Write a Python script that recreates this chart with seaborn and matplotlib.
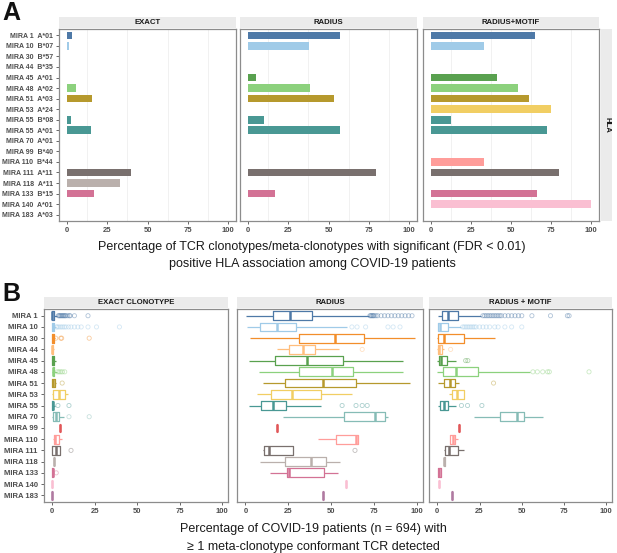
import numpy as np
import pandas as pd
import matplotlib
matplotlib.use("Agg")
import matplotlib.pyplot as plt
import seaborn as sns

sns.set_theme(style="white")
plt.rcParams['font.family'] = ['Liberation Sans', 'DejaVu Sans']

# ---------------- data ----------------
mira_ids = ["MIRA 1", "MIRA 10", "MIRA 30", "MIRA 44", "MIRA 45", "MIRA 48", "MIRA 51",
            "MIRA 53", "MIRA 55", "MIRA 70", "MIRA 99", "MIRA 110", "MIRA 111", "MIRA 118",
            "MIRA 133", "MIRA 140", "MIRA 183"]
mira_colors = ["#4E79A7", "#A0CBE8", "#F28E2B", "#FFBE7D", "#59A14F", "#8CD17D", "#B6992D",
               "#F1CE63", "#499894", "#86BCB6", "#E15759", "#FF9D9A", "#79706E", "#BAB0AC",
               "#D37295", "#FABFD2", "#B07AA1"]

# Panel A
hla_mira = ["MIRA 1", "MIRA 10", "MIRA 30", "MIRA 44", "MIRA 45", "MIRA 48", "MIRA 51",
            "MIRA 53", "MIRA 55", "MIRA 55", "MIRA 70", "MIRA 99", "MIRA 110", "MIRA 111",
            "MIRA 118", "MIRA 133", "MIRA 140", "MIRA 183"]
hla_allele = ["A*01", "B*07", "B*57", "B*35", "A*01", "A*02", "A*03", "A*24", "B*08", "A*01",
              "A*01", "B*40", "B*44", "A*11", "A*11", "B*15", "A*01", "A*03"]
nan = np.nan
exact_pct = [3.3, 1.5, nan, nan, nan, 5.8, 15.3, nan, 2.5, 14.7, nan, nan, nan, 39.8, 33.1, 16.8, nan, nan]
radius_pct = [57.2, 37.8, nan, nan, 5.2, 38.4, 53.7, nan, 9.9, 57.2, nan, nan, nan, 79.5, nan, 16.5, nan, nan]
motif_pct = [65.3, 33.3, nan, nan, 41.0, 54.5, 61.3, 74.8, 12.3, 72.3, nan, nan, 33.3, 79.8, nan, 66.5, 100.0, nan]

# Panel B: (min whisker, q1, median, q3, max whisker) per MIRA
box_exact = [(0, 0, 0, 1, 3), (0, 0, 0.3, 1, 2), (0, 0, 0.5, 1.2, 1.8), (0, 0, 0, 0.5, 0.8),
             (0, 0, 0.3, 1, 2), (0, 0.3, 0.5, 1.2, 2.5), (0, 0, 0.5, 1.5, 2), (0, 0.4, 3.7, 7.3, 9.4),
             (0, 0, 0.2, 0.5, 1.5), (0, 0.4, 1.9, 3.8, 6.9), (4.6, 4.6, 4.6, 4.6, 4.6),
             (0.4, 1, 1.5, 3.8, 5.8), (0, 0, 1.9, 4.4, 4.4), (0.8, 0.8, 0.8, 0.8, 0.8),
             (0, 0, 0.3, 0.6, 0.6), (0, 0, 0, 0, 0), (0, 0, 0, 0, 0)]
box_radius = [(0.4, 16.2, 25.8, 38.5, 72), (1.2, 8.5, 18.5, 29.7, 59), (2.5, 31.4, 52.4, 69.2, 98.5),
              (18.1, 25.2, 33.5, 40.7, 54.7), (2.3, 17, 36, 57, 91.9), (7.9, 31.4, 50.7, 62.6, 91.9),
              (10, 22.9, 45.3, 64.4, 95.8), (6.7, 15, 27.2, 43.9, 62), (2.1, 9.1, 16, 23.9, 44.1),
              (22, 57.2, 75.5, 81.5, 83), (18.5, 18.5, 18.5, 18.5, 18.5), (42, 53, 64.4, 65.5, 65.5),
              (10.4, 11, 13.9, 27.7, 27.7), (8.5, 23.1, 38.3, 47, 55.3), (14.3, 24.3, 25.2, 45.5, 54.1),
              (58.6, 58.6, 58.6, 58.6, 58.6), (45.1, 45.1, 45.1, 45.1, 45.1)]
box_motif = [(0.6, 2.7, 6.2, 12.1, 26), (0.2, 0.6, 1.7, 6.2, 14.3), (0, 0.4, 3.7, 15.8, 34.1),
             (0, 0.2, 0.8, 2.5, 4), (0, 0.8, 2.3, 5.6, 11), (0, 3.1, 11.2, 24.3, 54.7),
             (0.2, 4, 7.5, 10.4, 12.9), (6.9, 9, 11.8, 15.8, 15.8), (0.6, 1.7, 4.2, 6.6, 11),
             (22, 37, 47.4, 51.6, 62.6), (12.7, 12.7, 12.7, 12.7, 12.7), (7.5, 7.7, 9.4, 10.6, 12.5),
             (3.7, 4.4, 6.7, 12.1, 15.8), (3.8, 4, 4.2, 4.5, 4.7), (0.4, 0.5, 1, 2.3, 2.3),
             (0.8, 0.8, 0.8, 0.8, 0.8), (8.5, 8.5, 8.5, 8.5, 8.5)]

fliers_exact = {"MIRA 1": [3.5, 4, 4.5, 5, 5.5, 6, 6.5, 7, 7.5, 8, 9, 10, 10.5, 13, 21],
                "MIRA 10": [2.5, 3, 4, 5, 6, 7, 8, 9.5, 11, 13, 15, 17, 21, 26, 39.5],
                "MIRA 30": [2, 5, 5.5, 21.7], "MIRA 48": [3, 4, 5, 6, 7.3], "MIRA 51": [5.8],
                "MIRA 55": [3.3, 9.8], "MIRA 70": [9.8, 21.7], "MIRA 111": [11], "MIRA 133": [2.3]}
fliers_radius = {"MIRA 1": [72.5, 73, 73.5, 74, 74.5, 75, 76, 77, 79, 81, 83, 85, 87, 89, 91, 93, 95, 97],
                 "MIRA 10": [62, 65, 70, 83, 86, 90], "MIRA 44": [68],
                 "MIRA 55": [56.3, 64.4, 68, 70.9], "MIRA 111": [63.8]}
fliers_motif = {"MIRA 1": [27, 28, 29, 30, 31, 32, 33, 34, 35, 36, 37, 38, 40, 42, 44, 46, 48, 50, 56, 67, 77, 78],
                "MIRA 10": [15, 16, 17, 18, 19, 20, 21, 22, 23, 25, 27, 29, 31, 34, 36, 40, 44, 50],
                "MIRA 44": [7.9], "MIRA 45": [16.8, 18.1],
                "MIRA 48": [56.6, 59.2, 62.4, 65.3, 66.3, 89.8], "MIRA 51": [33.3],
                "MIRA 55": [14.3, 17.9, 26.4]}

ticks = [0, 25, 50, 75, 100]
pal = dict(zip(mira_ids, mira_colors))

# ---------------- figure ----------------
W, H = 617, 553
fig = plt.figure(figsize=(W / 100, H / 100), dpi=100)

TICK_FS = 5.5


def px_axes(x0, y0, x1, y1):
    return fig.add_axes([x0 / W, 1 - y1 / H, (x1 - x0) / W, (y1 - y0) / H])


def strip(x0, y0, x1, y1, text, rotation=0):
    s = px_axes(x0, y0, x1, y1)
    s.set_facecolor("#EBEBEB")
    s.set_xticks([]); s.set_yticks([])
    for sp in s.spines.values():
        sp.set_visible(False)
    s.text(0.5, 0.5, text, ha="center", va="center", fontsize=5.6, fontweight="bold",
           color="#1a1a1a", rotation=rotation, transform=s.transAxes)


def style(ax, xlim, ylim, show_y, yfs=TICK_FS):
    ax.set_xlim(*xlim)
    ax.set_ylim(*ylim)
    ax.set_xticks(ticks)
    ax.set_xticklabels([str(t) for t in ticks], fontsize=TICK_FS, fontweight="bold", color="#4D4D4D")
    ax.set_xlabel(""); ax.set_ylabel("")
    ax.tick_params(axis="both", length=2.5, width=0.6, color="#4D4D4D", pad=2,
                   bottom=True, left=show_y)
    if show_y:
        for lab in ax.get_yticklabels():
            lab.set_fontsize(yfs); lab.set_fontweight("bold"); lab.set_color("#4D4D4D")
    else:
        ax.set_yticklabels([])
    for sp in ax.spines.values():
        sp.set_visible(True); sp.set_color("#8C8C8C"); sp.set_linewidth(0.9)
    ax.set_facecolor("white")


# Panel A
hla_labels = [f"{m}  {a}" for m, a in zip(hla_mira, hla_allele)]
dfA = pd.DataFrame({"label": hla_labels, "mira": hla_mira,
                    "EXACT": exact_pct, "RADIUS": radius_pct, "RADIUS+MOTIF": motif_pct})
a_pos = [(59, 236), (240, 417), (423, 599)]
a_top, a_bot = 29, 221
for i, (col, (x0, x1)) in enumerate(zip(["EXACT", "RADIUS", "RADIUS+MOTIF"], a_pos)):
    ax = px_axes(x0, a_top, x1, a_bot)
    for g in [12.5, 37.5, 62.5, 87.5]:
        ax.axvline(g, color="#EFEFEF", lw=0.6, zorder=0)
    d = dfA.dropna(subset=[col])
    sns.barplot(data=d, x=col, y="label", hue="mira", order=hla_labels, palette=pal,
                width=0.72, dodge=False, legend=False, errorbar=None, orient="h",
                saturation=1, linewidth=0, ax=ax)
    style(ax, (-5, 105), (len(hla_labels) - 0.4, -0.6), i == 0, yfs=5.05)
    strip(x0, 17, x1, a_top - 1, col)
strip(601, a_top, 612, a_bot, "HLA", rotation=-90)

fig.text(312 / W, 1 - 247 / H, "Percentage of TCR clonotypes/meta-clonotypes with significant (FDR < 0.01)",
         ha="center", va="center", fontsize=9, color="#1a1a1a")
fig.text(312 / W, 1 - 264 / H, "positive HLA association among COVID-19 patients",
         ha="center", va="center", fontsize=9, color="#1a1a1a")

# Panel B
b_pos = [(44, 228), (237, 423), (429, 612)]
b_top, b_bot = 309, 502
b_sets = [("EXACT CLONOTYPE", box_exact, fliers_exact),
          ("RADIUS", box_radius, fliers_radius),
          ("RADIUS + MOTIF", box_motif, fliers_motif)]
for i, ((title, stats, fliers), (x0, x1)) in enumerate(zip(b_sets, b_pos)):
    ax = px_axes(x0, b_top, x1, b_bot)
    rows = []
    for m, s in zip(mira_ids, stats):
        for v in s:
            rows.append((m, v))
    dfB = pd.DataFrame(rows, columns=["mira", "value"])
    sns.boxplot(data=dfB, x="value", y="mira", hue="mira", order=mira_ids, hue_order=mira_ids,
                palette=pal, fill=False, whis=(0, 100), showfliers=False, showcaps=False,
                width=0.78, linewidth=0.9, medianprops=dict(linewidth=1.8),
                legend=False, orient="h", ax=ax)
    frows = []
    for m, vals in fliers.items():
        for v in vals:
            frows.append((m, mira_ids.index(m), v))
    dfF = pd.DataFrame(frows, columns=["mira", "ypos", "value"])
    sns.scatterplot(data=dfF, x="value", y="ypos", hue="mira", palette=pal, marker="o",
                    s=9, legend=False, ax=ax, alpha=0.45, zorder=1)
    for coll in ax.collections:
        fc = coll.get_facecolors()
        if len(fc):
            coll.set_edgecolors(fc)
            coll.set_facecolors("none")
            coll.set_linewidths(0.6)
    ax.set_yticks(range(len(mira_ids)))
    ax.set_yticklabels(mira_ids)
    style(ax, (-4.9, 103.4), (len(mira_ids) - 0.4, -0.6), i == 0)
    strip(x0, 297, x1, b_top - 1, title)

fig.text(313 / W, 1 - 529 / H, "Percentage of COVID-19 patients (n = 694) with",
         ha="center", va="center", fontsize=9, color="#1a1a1a")
fig.text(313 / W, 1 - 547 / H, "\u2265 1 meta-clonotype conformant TCR detected",
         ha="center", va="center", fontsize=9, color="#1a1a1a")

fig.text(2 / W, 1 - 1 / H, "A", ha="left", va="top", fontsize=18, fontweight="bold", color="#111111")
fig.text(2 / W, 1 - 282 / H, "B", ha="left", va="top", fontsize=18, fontweight="bold", color="#111111")

fig.savefig("out.png", dpi=100, facecolor="white")
